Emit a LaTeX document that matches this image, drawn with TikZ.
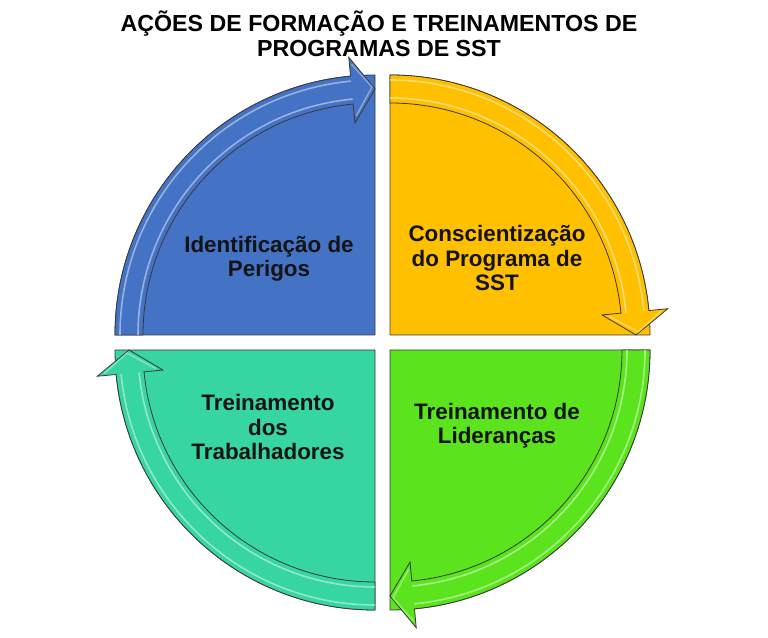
\documentclass[tikz,border=0pt]{standalone}
\usepackage{fontspec}
\setmainfont{Liberation Sans}
\usetikzlibrary{calc}
\definecolor{cblue}{HTML}{4472C4}
\definecolor{cyellow}{HTML}{FFC000}
\definecolor{cgreen}{HTML}{5BE31E}
\definecolor{cteal}{HTML}{36D5A2}
\definecolor{cline}{HTML}{3A3A3A}
\newcommand\qsector[3]{%
  \begin{scope}[shift={#1}]
    \pgfmathsetmacro\qs{#2+90}
    \pgfmathsetmacro\qb{#2+5.4}
    \filldraw[sectorbox,fill=#3] (0,0) -- (#2:260) arc[start angle=#2,end angle=\qs,radius=260] -- cycle;
    \filldraw[arrowband,fill=#3] (\qs:260) arc[start angle=\qs,end angle=\qb,radius=260]
      -- (\qb:279) -- (#2:246) -- (\qb:213) -- (\qb:232)
      arc[start angle=\qb,end angle=\qs,radius=232] -- cycle;
    \draw[gloss] (\qs:255) arc[start angle=\qs,end angle=\qb,radius=255];
    \draw[gloss] (\qs:237) arc[start angle=\qs,end angle=\qb,radius=237];
    \draw[gloss,opacity=0.35] ($(\qb:272)+(\qb-90:2)$) -- ($(#2:248)+(#2+90:3)$) -- ($(\qb:220)+(\qb-90:2)$);
  \end{scope}}
\begin{document}
\begin{tikzpicture}[x=1bp,y=1bp,
  sectorbox/.style={draw=cline,line width=0.8bp,line join=round},
  arrowband/.style={draw=cline,line width=0.8bp,line join=miter},
  gloss/.style={draw=white,opacity=0.45,line width=1.6bp},
  qtext/.style={font=\bfseries\fontsize{22.5}{24.5}\selectfont,align=center,text=black!92},
  titletext/.style={font=\bfseries\fontsize{23.3}{25}\selectfont,align=center}]
\useasboundingbox (0,0) rectangle (768,638);
\fill[white] (0,0) rectangle (768,638);
\qsector{(375,303)}{90}{cblue}
\qsector{(390,303)}{0}{cyellow}
\qsector{(390,288)}{270}{cgreen}
\qsector{(375,288)}{180}{cteal}
\node[titletext] (title) at (379,604) {AÇÕES DE FORMAÇÃO E TREINAMENTOS DE\\PROGRAMAS DE SST};
\node[qtext] (perigos) at (269,379) {Identificação de\\Perigos};
\node[qtext] (conscient) at (497,380) {Conscientização\\do Programa de\\SST};
\node[qtext] (liderancas) at (497,212) {Treinamento de\\Lideranças};
\node[qtext] (trabalhadores) at (268,211) {Treinamento\\dos\\Trabalhadores};
\end{tikzpicture}
\end{document}
